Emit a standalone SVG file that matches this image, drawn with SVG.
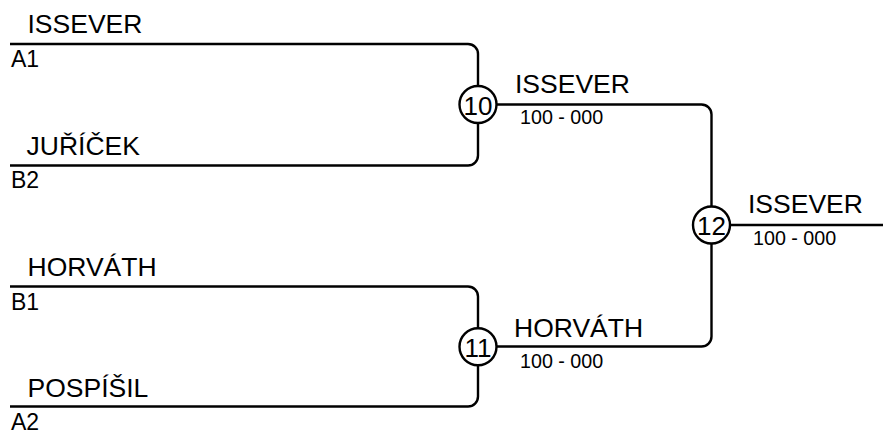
<svg xmlns="http://www.w3.org/2000/svg" width="883" height="430" viewBox="0 0 883 430">
<style>
.ln{fill:none;stroke:#000;stroke-width:2.4}
.c{fill:#fff;stroke:#000;stroke-width:2.4}
text{font-family:"Liberation Sans",Arial,sans-serif;fill:#000}
.nm{font-size:26.5px}
.sd{font-size:23px}
.sc{font-size:19.7px}
.num{font-size:26px;text-anchor:middle}
</style>
<rect width="883" height="430" fill="#fff"/>
<g id="connectors">
<path class="ln" d="M10,44 H468 A10,10 0 0 1 478,54 V155.5 A10,10 0 0 1 468,165.5 H10"/>
<path class="ln" d="M10,286.5 H468 A10,10 0 0 1 478,296.5 V396.5 A10,10 0 0 1 468,406.5 H10"/>
<path class="ln" d="M478,104.5 H701.5 A10,10 0 0 1 711.5,114.5 V336.5 A10,10 0 0 1 701.5,346.5 H478"/>
<path class="ln" d="M711.5,225 H883"/>
</g>
<g id="p1">
<text class="nm" x="27.5" y="33.3">ISSEVER</text>
<text class="sd" x="11" y="66.5">A1</text>
</g>
<g id="p2">
<text class="nm" x="26.5" y="155">JUŘÍČEK</text>
<text class="sd" x="11" y="188.3">B2</text>
</g>
<g id="p3">
<text class="nm" x="27.5" y="276">HORVÁTH</text>
<text class="sd" x="11" y="310">B1</text>
</g>
<g id="p4">
<text class="nm" x="27.5" y="396.5">POSPÍŠIL</text>
<text class="sd" x="11" y="429.5">A2</text>
</g>
<g id="m10">
<circle class="c" cx="478" cy="104.5" r="18.5"/>
<text class="num" x="478" y="114.5">10</text>
<text class="nm" x="515" y="93.3">ISSEVER</text>
<text class="sc" x="520" y="124.3">100 - 000</text>
</g>
<g id="m11">
<circle class="c" cx="478" cy="346.8" r="18.5"/>
<text class="num" x="478" y="356.8">11</text>
<text class="nm" x="514" y="336.7">HORVÁTH</text>
<text class="sc" x="520" y="367.7">100 - 000</text>
</g>
<g id="m12">
<circle class="c" cx="711.5" cy="225" r="18.5"/>
<text class="num" x="711.5" y="235">12</text>
<text class="nm" x="748" y="213.3">ISSEVER</text>
<text class="sc" x="753" y="245">100 - 000</text>
</g>
</svg>
